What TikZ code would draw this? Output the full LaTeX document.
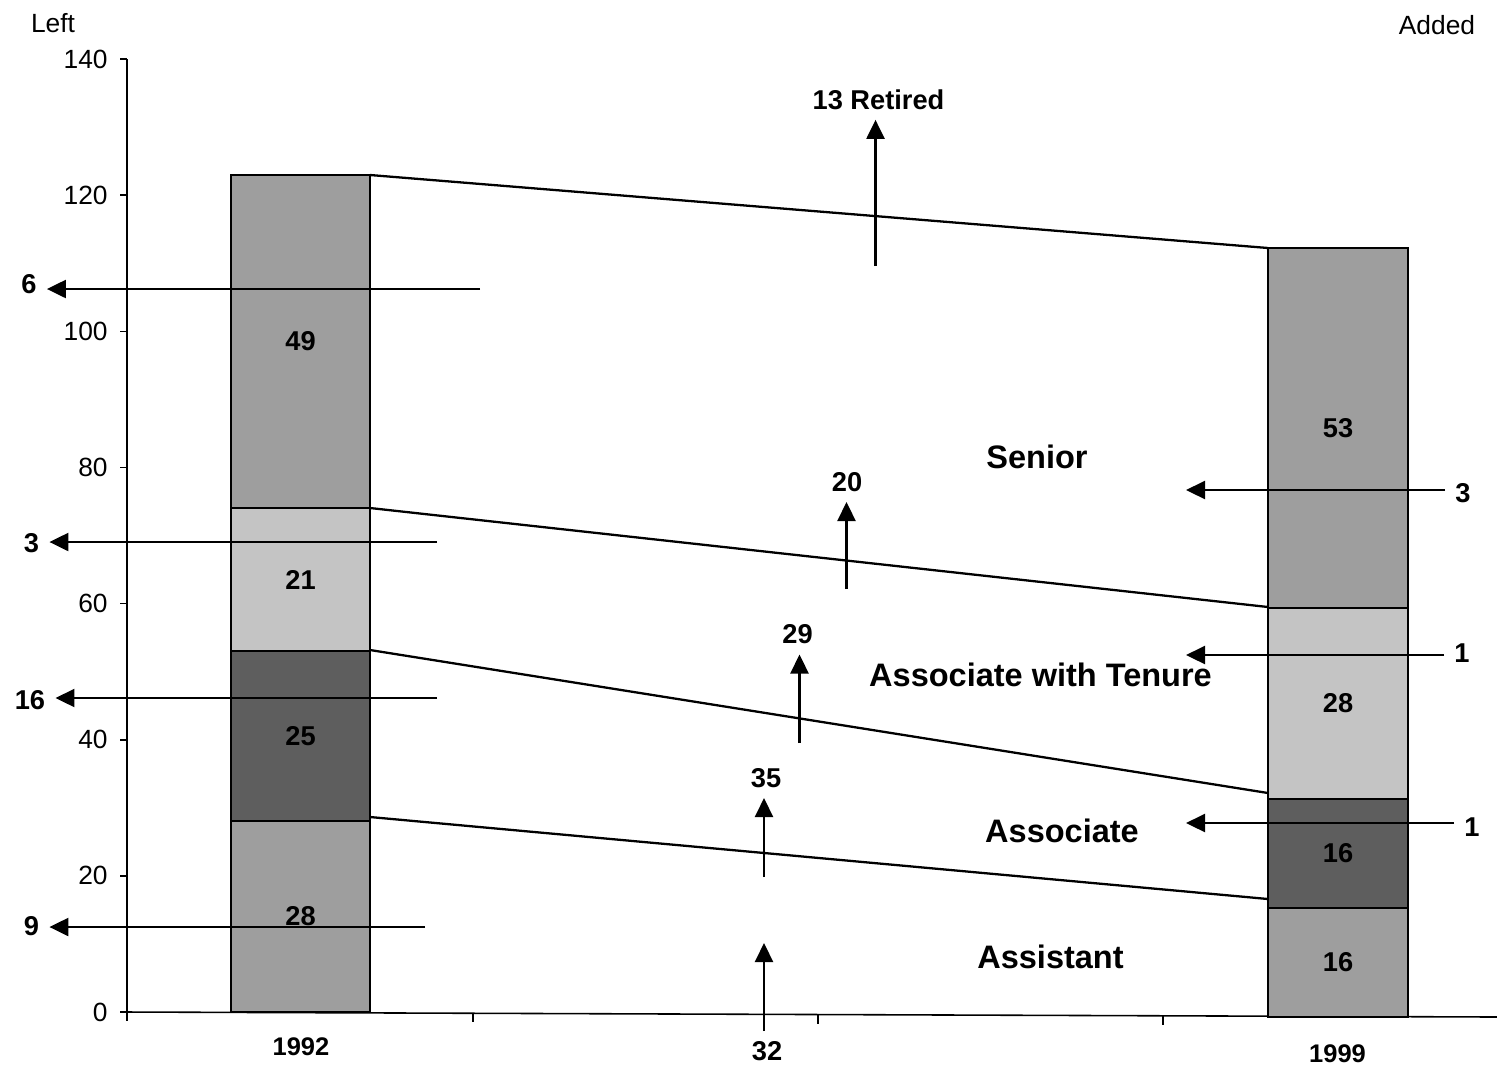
\documentclass[tikz,border=0pt]{standalone}
\usepackage{fontspec}
\setmainfont{Liberation Sans}
\usetikzlibrary{arrows.meta}

\definecolor{segmid}{gray}{0.62}
\definecolor{segdark}{gray}{0.37}
\definecolor{seglight}{gray}{0.77}

\tikzset{
  barseg/.style={draw=black,line width=1.6pt},
  barnum/.style={font=\fontsize{15.5}{17}\selectfont\bfseries,inner sep=0pt},
  ticklab/.style={font=\fontsize{15}{17}\selectfont,anchor=east,inner sep=0pt},
  yearlab/.style={font=\fontsize{14.5}{17}\selectfont\bfseries,inner sep=0pt},
  flowlab/.style={font=\fontsize{15.5}{17}\selectfont\bfseries,inner sep=0.2cm},
  ranklab/.style={font=\fontsize{18.5}{21}\selectfont\bfseries,inner sep=0pt},
  flow/.style={->,line width=1.3pt},
  link/.style={line width=1.3pt},
  axis/.style={line width=0.9pt}
}

\begin{document}
\begin{tikzpicture}[x=0.02cm,y=-0.02cm,>={Triangle[length=0.38cm,width=0.36cm]}]
  \useasboundingbox (0,0) rectangle (1497,1066);

  % axes
  \draw[axis] (127,59) -- (127,1012) -- (1497,1017);
  \foreach \v in {0,20,...,140}
    {
      \draw[axis] (120,{1012-6.807*\v}) -- (127,{1012-6.807*\v});
      \node[ticklab] (tick\v) at (108,{1012-6.807*\v}) {\v};
    }
  \foreach \x in {127,473,818,1163}
    \draw[axis] (\x,{1012+5*(\x-127)/1370}) -- (\x,{1021+5*(\x-127)/1370});
  \node[font=\fontsize{15}{17}\selectfont,inner sep=0pt] (left) at (53,23) {Left};
  \node[font=\fontsize{15}{17}\selectfont,inner sep=0pt] (added) at (1437,25) {Added};

  % bars
  \foreach \lo/\hi/\shade/\val [count=\i] in {1012/821/segmid/28,821/651/segdark/25,651/508/seglight/21,508/175/segmid/49}
    {
      \filldraw[barseg,fill=\shade] (231,\lo) rectangle (370,\hi);
      \node[barnum] (y92s\i) at (300.5,{(\lo+\hi)/2}) {\val};
    }
  \foreach \lo/\hi/\shade/\val [count=\i] in {1017/908/segmid/16,908/799/segdark/16,799/608/seglight/28,608/248/segmid/53}
    {
      \filldraw[barseg,fill=\shade] (1268,\lo) rectangle (1408,\hi);
      \node[barnum] (y99s\i) at (1338,{(\lo+\hi)/2}) {\val};
    }
  \node[yearlab] (y92) at (301,1047) {1992};
  \node[yearlab] (y99) at (1337.5,1053.5) {1999};

  % links between the bars
  \coordinate (a1) at (370,175);  \coordinate (b1) at (1268,248);
  \coordinate (a2) at (370,508);  \coordinate (b2) at (1268,607);
  \coordinate (a3) at (370,650);  \coordinate (b3) at (1268,793);
  \coordinate (a4) at (370,817);  \coordinate (b4) at (1268,899);
  \foreach \i in {1,...,4}
    \draw[link] (a\i) -- (b\i);

  % rank names
  \node[ranklab] (senior) at (1037,457) {Senior};
  \node[ranklab] (tenure) at (1040.5,675) {Associate with Tenure};
  \node[ranklab] (assoc) at (1062,831) {Associate};
  \node[ranklab] (assist) at (1050.5,956.5) {Assistant};

  % left
  \node[flowlab] (out6) at (29,284) {6};
  \node[flowlab] (out3) at (31.5,543.5) {3};
  \node[flowlab] (out16) at (30,700) {16};
  \node[flowlab] (out9) at (31.5,926) {9};
  \coordinate (from6) at (480,289);
  \coordinate (from3) at (437,542);
  \coordinate (from16) at (437,698);
  \coordinate (from9) at (425,927);
  \foreach \n in {6,3,16,9}
    \draw[flow] (from\n) -- (from\n -| out\n.east);

  % added
  \node[flowlab] (in3) at (1463,493.5) {3};
  \node[flowlab] (in1a) at (1462,653) {1};
  \node[flowlab] (in1b) at (1472,827) {1};
  \coordinate (to3) at (1186,490);
  \coordinate (to1a) at (1186,655);
  \coordinate (to1b) at (1186,823);
  \foreach \n in {3,1a,1b}
    \draw[flow] (to\n -| in\n.west) -- (to\n);

  % promoted and retired
  \node[flowlab] (up13) at (878.5,99.5) {13 Retired};
  \node[flowlab] (up20) at (847,482) {20};
  \node[flowlab] (up29) at (797.5,634.5) {29};
  \node[flowlab] (up35) at (766,778) {35};
  \coordinate (from13) at (875.5,266);
  \coordinate (from20) at (846.5,589);
  \coordinate (from29) at (799.5,743);
  \coordinate (from35) at (764,877);
  \foreach \n in {13,20,29,35}
    \draw[flow] (from\n) -- (from\n |- up\n.south);

  % hired
  \node[flowlab] (hire32) at (767,1051) {32};
  \coordinate (to32) at (764,943);
  \draw[flow] (to32 |- hire32.north) -- (to32);
\end{tikzpicture}
\end{document}
